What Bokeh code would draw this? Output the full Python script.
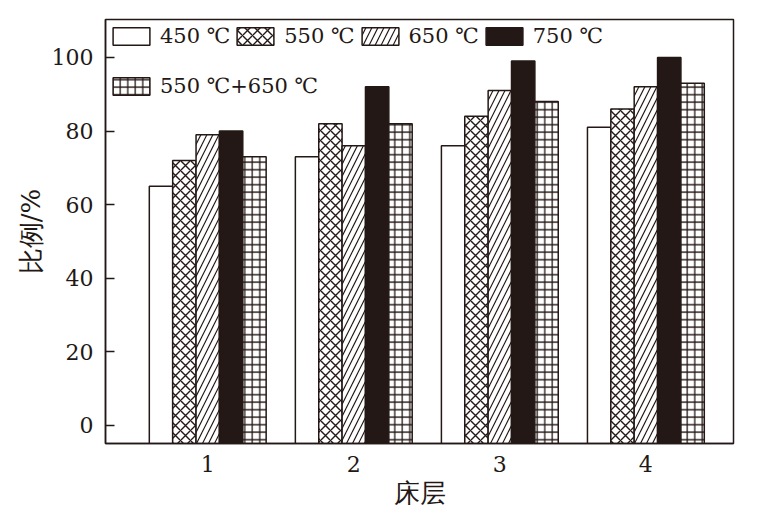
from bokeh.plotting import figure
from bokeh.models import ColumnDataSource, Legend, LegendItem, FixedTicker
from bokeh.transform import dodge
from bokeh.embed import file_html
from bokeh.resources import INLINE

layers = [1, 2, 3, 4]
series_names = ["450 ℃", "550 ℃", "650 ℃", "750 ℃", "550 ℃+650 ℃"]
v450 = [65, 73, 76, 81]
v550 = [72, 82, 84, 86]
v650 = [79, 76, 91, 92]
v750 = [80, 92, 99, 100]
v550_650 = [73, 82, 88, 93]
y_ticks = [0, 20, 40, 60, 80, 100]

INK = "#231815"
FONT = "DejaVu Serif"
Y0 = -4.9

src = ColumnDataSource(dict(layer=layers, v450=v450, v550=v550, v650=v650,
                            v750=v750, v550_650=v550_650))

p = figure(frame_width=628, frame_height=424, x_range=(0.30, 4.60), y_range=(Y0, 110.3),
           output_backend="svg", toolbar_location=None,
           min_border_left=105, min_border_right=21, min_border_top=19, min_border_bottom=65)

bw = 0.16
styles = [
    dict(fill_color="white"),
    dict(fill_color="white", hatch_pattern="x", hatch_scale=10, hatch_weight=1.4, hatch_color=INK),
    dict(fill_color="white", hatch_pattern="/", hatch_scale=12, hatch_weight=1.2, hatch_color=INK),
    dict(fill_color=INK),
    dict(fill_color="white", hatch_pattern="+", hatch_scale=7.5, hatch_weight=1.3, hatch_color=INK),
]
fields = ["v450", "v550", "v650", "v750", "v550_650"]
offsets = [-2 * bw, -bw, 0, bw, 2 * bw]
rends = []
for f, off, st in zip(fields, offsets, styles):
    r = p.vbar(x=dodge("layer", off), top=f, bottom=Y0, width=bw, source=src,
               line_color=INK, line_width=1.5, **st)
    rends.append(r)

p.grid.visible = False
p.outline_line_color = INK
p.outline_line_width = 1.5
p.background_fill_color = "white"
p.border_fill_color = "white"

for ax in (p.xaxis[0], p.yaxis[0]):
    ax.axis_line_color = INK
    ax.axis_line_width = 1.5
    ax.major_tick_line_color = INK
    ax.major_tick_line_width = 1.5
    ax.minor_tick_line_color = None
    ax.major_label_text_font = FONT
    ax.major_label_text_font_size = "22px"
    ax.major_label_text_color = INK
    ax.axis_label_text_font = FONT
    ax.axis_label_text_font_size = "26px"
    ax.axis_label_text_color = INK
    ax.axis_label_text_font_style = "normal"

p.xaxis.ticker = FixedTicker(ticks=layers)
p.xaxis.major_tick_in = 0
p.xaxis.major_tick_out = 0
p.xaxis.major_label_standoff = 12
p.xaxis.axis_label = "床层"
p.xaxis.axis_label_standoff = 3

p.yaxis.ticker = FixedTicker(ticks=y_ticks)
p.yaxis.major_tick_in = 9
p.yaxis.major_tick_out = 0
p.yaxis.major_label_standoff = 12
p.yaxis.axis_label = "比例/%"
p.yaxis.axis_label_standoff = 3

def style_legend(lg):
    lg.glyph_width = 46
    lg.glyph_height = 22
    lg.label_height = 22
    lg.label_standoff = 6
    lg.spacing = 2
    lg.padding = 8
    lg.margin = 0
    lg.border_line_alpha = 0
    lg.background_fill_alpha = 0
    lg.label_text_font = FONT
    lg.label_text_font_size = "21px"
    lg.label_text_color = INK

leg1 = Legend(items=[LegendItem(label=series_names[i], renderers=[rends[i]]) for i in range(4)],
              orientation="horizontal", location=(-5, 387))
style_legend(leg1)
leg2 = Legend(items=[LegendItem(label=series_names[4], renderers=[rends[4]])],
              orientation="horizontal", location=(-5, 337))
style_legend(leg2)
p.add_layout(leg1)
p.add_layout(leg2)

open("out.html", "w").write(file_html(p, INLINE))
